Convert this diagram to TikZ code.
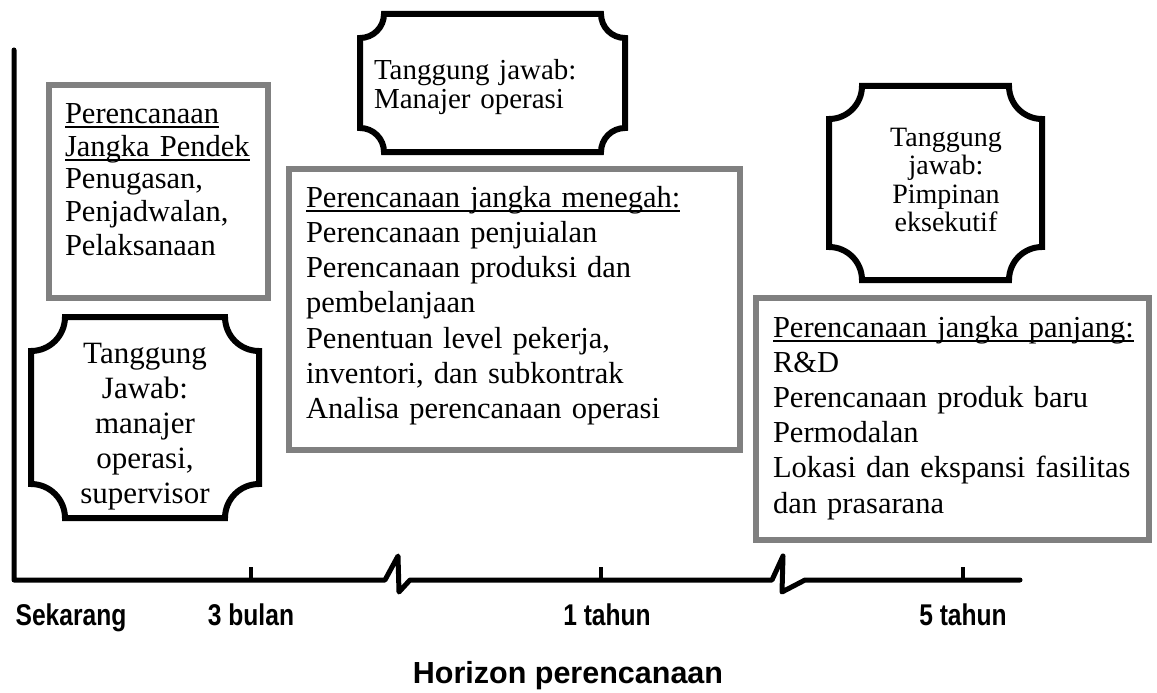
\documentclass[tikz,border=0pt]{standalone}
\usepackage{fontspec}
\setmainfont{Liberation Serif}
\setsansfont{Liberation Sans}
\newfontfamily\axisfont[FakeStretch=0.82]{Liberation Sans}
\usetikzlibrary{calc}
\definecolor{boxgray}{RGB}{128,128,128}

% underline that sits just under the baseline (descenders cross it)
\newcommand\undl[1]{\leavevmode\setbox0\hbox{#1}\rlap{\rule[-4.5pt]{\wd0}{2pt}}\box0}

% plaque outline (concave quarter-circle corners) around a named node
\newcommand\plaque[2]{%
  \draw[plaqueline]
    ($(#1.north west)+(#2,0)$) -- ($(#1.north east)+(-#2,0)$)
    arc[start angle=180,end angle=90,radius=#2]
    -- ($(#1.south east)+(0,-#2)$)
    arc[start angle=270,end angle=180,radius=#2]
    -- ($(#1.south west)+(#2,0)$)
    arc[start angle=0,end angle=-90,radius=#2]
    -- ($(#1.north west)+(0,#2)$)
    arc[start angle=90,end angle=0,radius=#2]
    -- cycle;}

\begin{document}
\begin{tikzpicture}[x=1pt,y=-1pt,
  graybox/.style={rectangle,draw=boxgray,line width=6pt,fill=white,
    inner sep=0pt,outer sep=0pt,anchor=north west},
  plaquearea/.style={rectangle,inner sep=0pt,outer sep=0pt,anchor=north west},
  plaqueline/.style={draw=black,line width=6pt,fill=white,line join=miter},
  bodytext/.style={inner sep=0pt,outer sep=0pt,anchor=base west,align=left,
    text width=#1},
  centertext/.style={inner sep=0pt,outer sep=0pt,anchor=base,align=center,
    text width=#1},
  axisline/.style={line width=5pt,line cap=round,line join=round},
  tickline/.style={line width=4pt},
  axislabel/.style={inner sep=0pt,anchor=base,
    font=\axisfont\bfseries\fontsize{30}{34}\selectfont},
  axistitle/.style={inner sep=0pt,anchor=base,
    font=\sffamily\bfseries\fontsize{30.5}{34}\selectfont},
]
\useasboundingbox (0,0) rectangle (1157,693);
\fill[white] (0,0) rectangle (1157,693);

% ---- axes -------------------------------------------------------------
\coordinate (ytop) at (14,50);
\coordinate (orig) at (14,580);
\coordinate (ba1) at (385,580);
\coordinate (ba2) at (398,556);
\coordinate (ba3) at (399,592);
\coordinate (ba4) at (410,580);
\coordinate (bb1) at (772,580);
\coordinate (bb2) at (783,556);
\coordinate (bb3) at (782,592);
\coordinate (bb4) at (805,580);
\coordinate (xend) at (1020,580);
\coordinate (t3) at (251,580);
\coordinate (t12) at (601,580);
\coordinate (t60) at (963,580);

\draw[axisline] (ytop) -- (orig) -- (ba1) -- (ba2) -- (ba3) -- (ba4)
  -- (bb1) -- (bb2) -- (bb3) -- (bb4) -- (xend);
\draw[tickline] (t3) -- ++(0,-13);
\draw[tickline] (t12) -- ++(0,-13);
\draw[tickline] (t60) -- ++(0,-13);

\node[axislabel] (l0) at (71,625) {Sekarang};
\node[axislabel] (l3) at ($(t3)+(0,45)$) {3 bulan};
\node[axislabel] (l12) at ($(t12)+(6,45)$) {1 tahun};
\node[axislabel] (l60) at ($(t60)+(0,45)$) {5 tahun};
\node[axistitle] (horizon) at (568,683) {Horizon perencanaan};

% ---- planning boxes ---------------------------------------------------
\node[graybox,minimum width=219pt,minimum height=213pt] (shortbox) at (49,85) {};
\node[bodytext=200pt,font=\fontsize{30.5}{33}\selectfont] (shorttext) at (65,123)
  {\undl{Perencanaan}\\\undl{Jangka Pendek}\\Penugasan,\\Penjadwalan,\\Pelaksanaan};

\node[graybox,minimum width=451pt,minimum height=281pt] (midbox) at (289,169) {};
\node[bodytext=430pt,font=\fontsize{30.5}{35.3}\selectfont] (midtext) at (306,207)
  {\undl{Perencanaan jangka menegah:}\\Perencanaan penjuialan\\
   Perencanaan produksi dan\\pembelanjaan\\Penentuan level pekerja,\\
   inventori, dan subkontrak\\Analisa perencanaan operasi};

\node[graybox,minimum width=393pt,minimum height=242pt] (longbox) at (756,298) {};
\node[bodytext=375pt,font=\fontsize{30.5}{35.2}\selectfont] (longtext) at (773,337)
  {\undl{Perencanaan jangka panjang:}\\R\&D\\Perencanaan produk baru\\
   Permodalan\\Lokasi dan ekspansi fasilitas\\dan prasarana};

% ---- responsibility plaques --------------------------------------------
\node[plaquearea,minimum width=228pt,minimum height=201pt] (lplaque) at (31,317) {};
\plaque{lplaque}{34}
\node[centertext=220pt,font=\fontsize{31}{35}\selectfont] (ltext) at (145,363)
  {Tanggung\\Jawab:\\manajer\\operasi,\\supervisor};

\node[plaquearea,minimum width=265pt,minimum height=138pt] (tplaque) at (360,14) {};
\plaque{tplaque}{24}
\node[bodytext=240pt,font=\fontsize{29}{28.5}\selectfont] (ttext) at (374,80)
  {Tanggung jawab:\\Manajer operasi};

\node[plaquearea,minimum width=213pt,minimum height=194pt] (rplaque) at (829,86) {};
\plaque{rplaque}{33}
\node[centertext=200pt,font=\fontsize{28}{28.6}\selectfont] (rtext) at (946,146)
  {Tanggung\\jawab:\\Pimpinan\\eksekutif};
\end{tikzpicture}
\end{document}
